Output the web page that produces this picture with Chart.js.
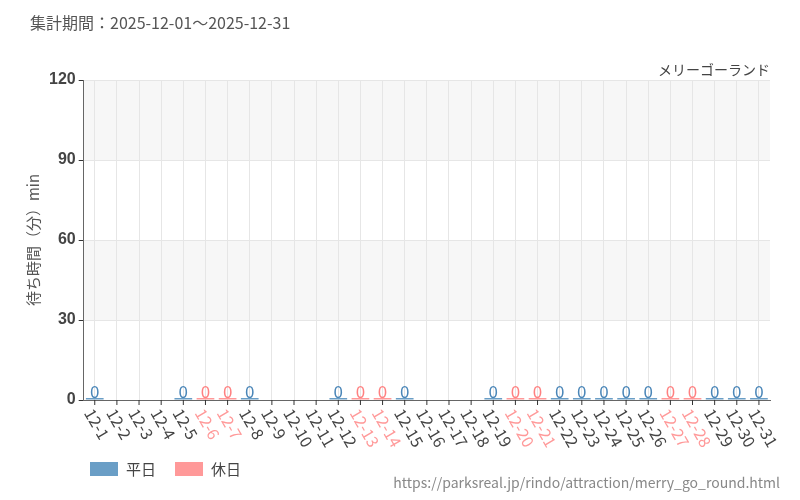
<!DOCTYPE html>
<html><head><meta charset="utf-8">
<script src="https://cdn.jsdelivr.net/npm/chart.js@4"></script>
<style>body{margin:0;background:#fff;font-family:"Noto Sans CJK JP","Noto Sans",sans-serif}
#w{position:relative;width:800px;height:500px}
.t{position:absolute;color:#555;font-size:15px}
.lg{position:absolute;top:458px;font-size:15px;color:#444;display:flex;align-items:center}
.lg span{display:inline-block;width:28px;height:14px;margin-right:8px}
</style></head><body><div id="w">
<div class="t" style="left:30px;top:10px;font-size:16px">集計期間：2025-12-01～2025-12-31</div>
<div class="t" style="right:30px;top:59px;font-size:14px;color:#444">メリーゴーランド</div>
<div class="t" style="right:20px;top:472px;font-size:14px;color:#888">https://parksreal.jp/rindo/attraction/merry_go_round.html</div>
<div class="lg" style="left:90px"><span style="background:#6a9ec6"></span>平日</div>
<div class="lg" style="left:175px"><span style="background:#ff9999"></span>休日</div>
<canvas id="c" width="800" height="500"></canvas></div>
<script>
const categories=[];for(let d=1;d<=31;d++)categories.push('12-'+d);
const holidays=['12-6','12-7','12-13','12-14','12-20','12-21','12-27','12-28'];
const dataDays=[1,5,6,7,8,12,13,14,15,19,20,21,22,23,24,25,26,27,28,29,30,31];
const weekdayValues=categories.map((c,i)=>dataDays.includes(i+1)&&!holidays.includes(c)?0:null);
const holidayValues=categories.map((c,i)=>dataDays.includes(i+1)&&holidays.includes(c)?0:null);
const yTicks=[0,30,60,90,120];
const BLUE='#6a9ec6',PINK='#ff9999';
const bands={id:'bands',beforeDraw(ch){const {ctx,chartArea:a,scales:{y}}=ch;ctx.save();ctx.fillStyle='#f7f7f7';
[[90,120],[30,60]].forEach(([l,h])=>{ctx.fillRect(a.left,y.getPixelForValue(h),a.right-a.left,y.getPixelForValue(l)-y.getPixelForValue(h));});ctx.restore();}};
const labels={id:'labels',afterDatasetsDraw(ch){const ctx=ch.ctx;ctx.save();ctx.font='17px "Noto Sans CJK JP"';ctx.textAlign='center';ctx.textBaseline='bottom';
ch.data.datasets.forEach((ds,di)=>{ch.getDatasetMeta(di).data.forEach((el,i)=>{if(ds.data[i]===null)return;ctx.fillStyle=ds.borderColor;ctx.fillText(String(ds.data[i]),el.x,el.y+2);});});
const x=ch.scales.x,b=ch.chartArea.bottom;ctx.font='16px "Noto Sans CJK JP"';ctx.textAlign='left';ctx.textBaseline='middle';
categories.forEach((c,i)=>{const px=x.getPixelForTick(i);ctx.strokeStyle='#333';ctx.beginPath();ctx.moveTo(px,b);ctx.lineTo(px,b+5);ctx.stroke();
ctx.save();ctx.translate(px-6,b+10);ctx.rotate(Math.PI/3);ctx.fillStyle=holidays.includes(c)?PINK:'#444';ctx.fillText(c,0,0);ctx.restore();});
ctx.restore();}};
new Chart(document.getElementById('c'),{type:'bar',
data:{labels:categories,datasets:[
{label:'平日',data:weekdayValues,backgroundColor:BLUE,borderColor:'#4a86b8',minBarLength:2,grouped:false,barPercentage:0.8,categoryPercentage:1},
{label:'休日',data:holidayValues,backgroundColor:PINK,borderColor:'#ff8080',minBarLength:2,grouped:false,barPercentage:0.8,categoryPercentage:1}]},
options:{responsive:false,animation:false,
layout:{padding:{left:20,right:30,top:80,bottom:100}},
plugins:{legend:{display:false},tooltip:{enabled:false}},
scales:{x:{grid:{color:'#e6e6e6',offset:false,drawTicks:false},border:{color:'#666'},ticks:{display:false}},
y:{min:0,max:120,afterBuildTicks(s){s.ticks=yTicks.map(v=>({value:v}));},grid:{color:'#e6e6e6',tickColor:'#333',tickLength:5},border:{color:'#666'},
ticks:{font:{size:16,weight:'bold'},color:'#444'},title:{display:true,text:'待ち時間（分）min',font:{size:15,family:'Noto Sans CJK JP'},color:'#555'}}}},
plugins:[bands,labels]});
</script></body></html>
